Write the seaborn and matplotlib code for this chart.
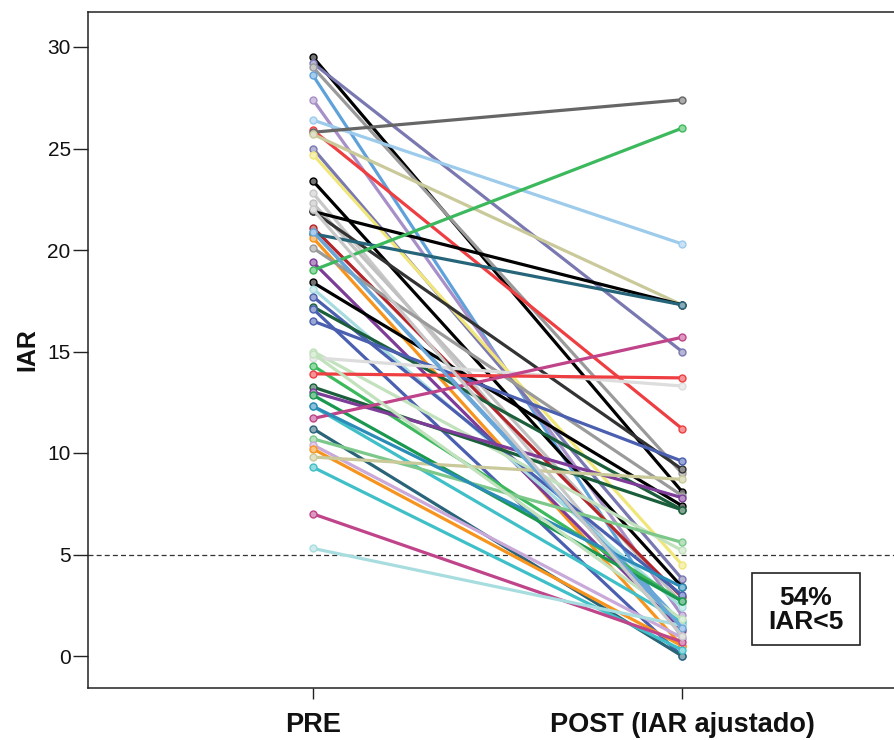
import matplotlib
matplotlib.use("Agg")
import matplotlib.pyplot as plt
import matplotlib.colors as mcolors
from matplotlib.patches import Rectangle
import numpy as np
import pandas as pd
import seaborn as sns

# ---- data ----
time_labels = ["PRE", "POST (IAR ajustado)"]
pre_values = [29.5, 29.2, 29.0, 28.6, 27.4, 26.4, 25.9, 25.8, 25.7, 25.0,
              24.7, 23.4, 22.8, 22.3, 21.9, 21.9, 21.1, 20.9, 20.8, 20.6,
              20.1, 19.4, 19.0, 18.4, 18.1, 17.7, 17.2, 17.1, 16.5, 15.0,
              14.7, 14.3, 13.9, 13.25, 13.0, 12.85, 12.3, 11.7, 11.2, 10.7,
              10.4, 10.2, 9.8, 9.3, 7.0, 5.3, 12.3, 14.9, 20.9, 22.0]
post_values = [8.1, 15.0, 9.0, 0.9, 2.0, 20.3, 11.2, 27.4, 17.3, 3.8,
               4.5, 3.4, 1.2, 2.6, 17.3, 9.2, 2.9, 1.6, 17.3, 0.5,
               7.9, 1.3, 26.0, 7.4, 2.4, 3.0, 7.2, 0.0, 9.6, 5.2,
               13.3, 2.7, 13.7, 7.2, 7.8, 2.7, 1.7, 15.7, 0.0, 5.6,
               0.9, 0.5, 8.7, 0.3, 0.7, 1.5, 3.4, 1.8, 1.4, 1.0]
line_colors = ["#000000", "#7a78b0", "#9a9a9a", "#5fa2da", "#a78fc8", "#9dcbec", "#ee3e42", "#666666", "#c9c99a", "#7a78b0",
               "#f0e67a", "#000000", "#c8c8c8", "#c0c0c0", "#000000", "#333333", "#b2252a", "#6aa6d8", "#26647a", "#f7941d",
               "#9a9a9a", "#7d3c98", "#3cb95c", "#000000", "#a8dde0", "#4a5fb0", "#1b5e3b", "#4a5fb0", "#4a5fb0", "#c2e1bd",
               "#dddddd", "#3cb95c", "#ee3e42", "#1b5e3b", "#7d3c98", "#1a9850", "#3fbfc7", "#c0448a", "#2a6478", "#7cc88a",
               "#c9a9d9", "#f7941d", "#c9c99a", "#3fbfc7", "#c0448a", "#a8dde0", "#2b8cb8", "#c2e1bd", "#6aa6d8", "#c8c8c8"]
threshold = 5
box_text = "54%\nIAR<5"

ids = [f"s{i}" for i in range(len(pre_values))]
df = pd.DataFrame({
    "id": ids * 2,
    "time": [0] * len(ids) + [1] * len(ids),
    "IAR": pre_values + post_values,
})
palette = dict(zip(ids, line_colors))

# ---- figure ----
sns.set_theme(style="ticks")
plt.rcParams["font.family"] = ["Liberation Sans", "DejaVu Sans"]
plt.rcParams["text.color"] = "#111111"
plt.rcParams["axes.labelcolor"] = "#111111"
plt.rcParams["xtick.color"] = "#111111"
plt.rcParams["ytick.color"] = "#111111"

W, H = 894, 740
fig = plt.figure(figsize=(W / 100, H / 100), dpi=100)
ax = fig.add_axes([88 / W, (H - 688) / H, (W - 88) / W, (688 - 12) / H])

sns.lineplot(data=df, x="time", y="IAR", hue="id", palette=palette,
             hue_order=ids, estimator=None, legend=False,
             linewidth=2.3, marker="o", markersize=5, ax=ax)

for ln in ax.lines:
    c = mcolors.to_rgb(ln.get_color())
    light = tuple(1 - 0.55 * (1 - v) for v in c)
    ln.set_markeredgecolor(c)
    ln.set_markerfacecolor(light)
    ln.set_markeredgewidth(1.0)
    ln.set_solid_capstyle("round")

ax.axhline(threshold, color="#333333", linewidth=0.9, linestyle=(0, (4, 2.5)), zorder=0.5)

ax.set_xlim((88 - 313) / 369, (894 - 313) / 369)
ax.set_ylim((656 - 688) / 20.3, (656 - 12) / 20.3)
ax.set_yticks([0, 5, 10, 15, 20, 25, 30])
ax.set_xticks([0, 1])
ax.set_xticklabels(time_labels, fontsize=19.5, fontweight="bold")
ax.tick_params(axis="y", labelsize=15, length=11, width=1.0, pad=1.5, color="#222222")
ax.tick_params(axis="x", length=8, width=1.0, pad=9, color="#222222")
ax.set_xlabel("")
ax.set_ylabel("IAR", fontsize=18, fontweight="bold", labelpad=6)

for s in ["left", "bottom", "top"]:
    ax.spines[s].set_linewidth(1.1)
    ax.spines[s].set_color("#222222")
ax.spines["right"].set_visible(False)

# annotation box
rect = Rectangle((752 / W, (H - 645) / H), 108 / W, 72 / H, transform=fig.transFigure,
                 facecolor="white", edgecolor="#222222", linewidth=1.2, zorder=5)
fig.patches.append(rect)
fig.text(806 / W, (H - 610) / H, box_text, ha="center", va="center",
         fontsize=19, fontweight="bold", linespacing=0.95, zorder=6)

fig.savefig("out.png", dpi=100)
